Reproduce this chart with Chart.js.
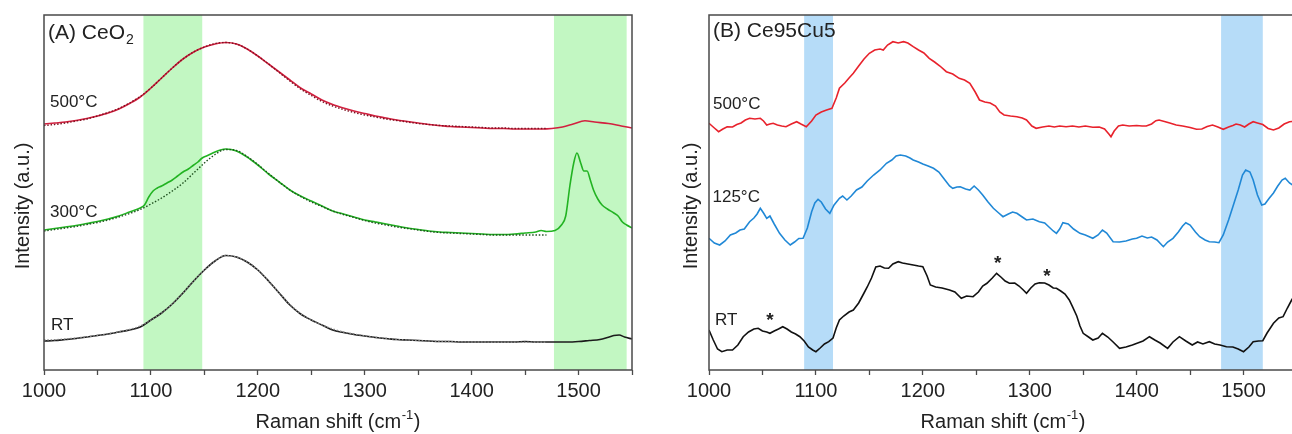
<!DOCTYPE html>
<html>
<head>
<meta charset="utf-8">
<script src="https://cdn.jsdelivr.net/npm/chart.js@4.4.1/dist/chart.umd.min.js"></script>
<style>
  html, body { margin: 0; padding: 0; background: #fff; }
  body { width: 1292px; height: 434px; overflow: hidden; position: relative; }
  .panel { position: absolute; top: 0; }
  canvas { display: block; }
</style>
</head>
<body>
<div class="panel" style="left:0"><canvas id="panelA" width="660" height="434"></canvas></div>
<div class="panel" style="left:660px"><canvas id="panelB" width="680" height="434"></canvas></div>
<script>
// ---------- Panel A: CeO2 (Raman shift in cm^-1, intensity in arbitrary offset units) ----------
const ceo2_500_x = [1000,1010,1020,1030,1040,1050,1060,1070,1080,1090,1100,1110,1120,1130,1140,1150,1160,1170,1180,1190,1200,1210,1220,1230,1240,1250,1260,1270,1280,1290,1300,1310,1320,1330,1340,1350,1360,1370,1380,1390,1400,1410,1420,1430,1440,1450,1460,1466,1475,1485,1495,1506,1515,1528,1540,1550];
const ceo2_500_y = [246,247,248,249.5,251.5,254,257,261,266.5,273,282,292,302,311,318,323,326,327.5,326,321,314,306,298,290,282,276,270,265.5,262,259,256.5,254,252,250,248.5,247,245.5,244.5,243.5,243,242.5,242,241.5,241.5,241,241,241,241,241.5,243,246,249.3,248,246.5,244,242];

const ceo2_300_x = [1000,1010,1020,1030,1040,1050,1060,1070,1080,1090,1094,1098,1102,1106,1110,1115,1120,1125,1130,1135,1140,1144,1148,1152,1156,1160,1165,1170,1175,1180,1190,1200,1210,1220,1230,1240,1250,1260,1270,1280,1290,1300,1310,1320,1330,1340,1350,1360,1370,1380,1390,1400,1410,1420,1430,1440,1450,1460,1465,1470,1478,1484,1488,1492,1495.5,1498.5,1502,1505,1508,1511,1514,1518,1522,1527,1533,1537,1541,1545,1550];
const ceo2_300_y = [140,141.5,143,144.5,146.5,148.5,151,154,158,162,165,173,179,182,184,187,190,194,198,201,205,208,212,214,216,218,220,221,220.5,219,213,205,196,188,180,174,169,164,159,156,153,150,148,146,144,142,140.5,139,138,137.5,137,136.5,136,135.5,135.5,136,137,138,139.5,138.5,139.5,145,154,185,207,217,207,199,199,190,180,171,165,161,157,154,148,145,142];

const ceo2_rt_x = [1000,1010,1020,1030,1040,1050,1060,1070,1080,1090,1100,1110,1120,1130,1140,1150,1160,1170,1180,1190,1200,1210,1220,1230,1240,1250,1260,1270,1280,1290,1300,1310,1320,1330,1340,1350,1360,1370,1380,1390,1400,1410,1420,1430,1440,1450,1460,1470,1480,1490,1500,1510,1520,1527,1533,1538,1543,1550];
const ceo2_rt_y = [29,29.5,30.5,31.5,33,34.5,36,38,40,43,50,57,66,77,89,100,109,114.5,113,108,100,89,77,65,56,50,45,40,37.5,35.5,34,32.5,31.5,30.5,30,29.5,29,28.5,28.5,28,28,28,28,28,28,28.5,28,28,28,28,28.5,29.5,30.5,32.5,34.5,35,33,31];

// fitted profiles (dotted)
const fit_x = [1000,1010,1020,1030,1040,1050,1060,1070,1080,1090,1100,1110,1120,1130,1140,1150,1160,1170,1180,1190,1200,1210,1220,1230,1240,1250,1260,1270,1280,1290,1300,1310,1320,1330,1340,1350,1360,1370,1380,1390,1400,1410,1420,1430,1440,1450,1460,1470];
const fit_500_y = [244.5,245.5,247,249,251,254,257.5,261.5,267,273.5,282,292,302,311,318,323,326.5,327.5,326,321,314,306,297.5,289,281,274.5,268.5,264,260.5,257.5,255,253,251,249.5,248,246.5,245.5,244.5,244,243.5,243,242.5,242,242,241.5,241.5,241.5,241.5];
const fit_300_y = [139,140.5,142,143.5,145.5,147.5,150,153,156.5,160.5,166,172,179,187,197,207,215.5,220.5,219.5,213.5,205.5,196.5,188,180,173.5,168,163.5,159,155.5,152.5,149.5,147,145,143,141.5,140,138.5,137.5,137,136.5,136,135.5,135,135,135,135,135,135];
const fit_rt_y = [30,30.2,31,32,33.2,34.6,36.2,38.2,40.5,44,50,57,66,77,89,100,109,114.5,113,108,100,89,77,65.5,56.5,50,45,41,38,36,34.2,32.8,31.6,30.6,30,29.5,29,28.7,28.4,28.2,28,28,27.8,27.8,27.8,27.8,27.8,27.8];

// ---------- Panel B: Ce95Cu5 ----------
const cecu_500_x = [1000,1005,1009,1013,1017,1022,1026,1030,1034,1038,1043,1048,1051,1054,1057,1060,1064,1068,1072,1077,1082,1086,1091,1096,1100,1105,1110,1115,1119,1122,1127,1131,1135,1140,1145,1150,1155,1160,1163,1167,1172,1177,1182,1186,1191,1196,1201,1206,1211,1216,1222,1228,1234,1239,1244,1249,1253,1258,1263,1268,1272,1276,1282,1288,1293,1297,1302,1306,1312,1318,1323,1328,1334,1340,1346,1352,1359,1365,1370,1374,1376,1379,1383,1387,1393,1400,1405,1409,1414,1418,1421,1426,1431,1437,1443,1450,1456,1461,1466,1471,1476,1481,1486,1490,1493,1497,1501,1505,1509,1513,1518,1523,1528,1533,1538,1543,1550];
const cecu_500_y = [246.7,242,238.3,241,243.3,243,245.5,247,250,251.7,251,251.7,249,245,246,246.7,245,244,243.3,246,248.3,246,243.3,249,255,258,260,261.7,272,281.7,287,292,296.7,304,311,316.7,320,321,320,325,328.3,327,328.3,327,323.3,320,317,311.7,308,304,298.3,296,291.7,290,286.7,278,270,268,267,264,258,255,254,253.3,252,250,244,241.7,243,244,243,244,243.3,244,243,244,242.7,243,241,236,233.3,239,244,245,244,244.5,244,244,246,249.3,250,248.5,247,245,244,242.5,240.7,241,243.5,245,243,240.7,243,244.5,246,245,243,246,248.3,247,245.5,241.5,240,242,246,248.3,249];

const cecu_125_x = [1000,1005,1010,1015,1020,1025,1029,1033,1038,1042,1045,1048,1051,1054,1057,1061,1066,1071,1076,1080,1084,1088,1092,1096,1099,1102,1105,1109,1113,1117,1122,1125,1129,1133,1138,1143,1148,1154,1160,1166,1171,1175,1179,1184,1188,1191,1196,1200,1205,1210,1215,1220,1225,1228,1232,1235,1240,1244,1248,1252,1256,1261,1266,1271,1275,1280,1284,1288,1293,1297,1303,1309,1314,1318,1322,1325,1328,1331,1336,1341,1347,1352,1359,1364,1368,1372,1378,1384,1390,1396,1400,1405,1410,1414,1419,1425,1429,1434,1439,1443,1446,1450,1455,1459,1464,1468,1473,1477,1481,1486,1490,1495,1499,1502,1506,1509,1513,1517,1520,1524,1528,1532,1536,1539,1543,1550];
const cecu_125_y = [131.7,127,125,129,135,137,140,141,148.3,152,156,161.7,157,151.7,154,146,136.7,130,125,128,131.5,131.7,142,158.3,167,170.7,168,161,156.7,165,171.7,174,170,174,180,183,189,195,200,206.7,210,214,215,214,212,210,208,206,204,201.7,198,191,184,181.7,183,183.3,181,180,184,180,175,168,161.7,157,153.3,156,158,156.7,153,150,151,148.3,147,143,139,136.7,141,147.3,146,141,136.7,135,131.7,135,140,137,128.3,128,129,131,131.7,134,132,133,130,123.3,128,131.7,138,144,147.3,145,138,133.3,130,128.3,128,127.3,135,150,163.3,180,195,200,198,190,175,165,166,171.7,177,184,190,191.7,187,182];

const cecu_rt_x = [1000,1004,1008,1012,1017,1022,1027,1032,1037,1042,1046,1050,1054,1057,1061,1065,1069,1073,1077,1081,1085,1089,1093,1097,1100,1104,1108,1112,1116,1119,1122,1126,1131,1135,1140,1145,1148,1152,1156,1160,1164,1168,1172,1177,1181,1186,1191,1196,1200,1204,1207,1212,1218,1225,1230,1236,1241,1247,1252,1256,1260,1265,1269,1273,1277,1281,1286,1290,1294,1297,1301,1305,1309,1314,1318,1322,1325,1329,1333,1337,1340,1344,1347,1350,1355,1359,1364,1368,1373,1378,1384,1390,1396,1401,1406,1412,1417,1422,1429,1434,1440,1446,1452,1457,1462,1468,1473,1478,1484,1490,1495,1500,1505,1509,1514,1518,1522,1528,1533,1537,1541,1545,1550];
const cecu_rt_y = [40,30,21,18.3,20,20,25,33.3,38,41,41.7,39,38,36.7,39,41,43.3,41,38,36,33.3,29,23,20,18.3,22,26,28.3,32,42,50,54,58,60,67,77,83,92,103,104,102,101.7,106,108.3,107,106,105,104,103.3,94,85,83,82,80,78,71.7,74,73.3,78,84,86.7,92,96.7,93,89,86.7,87,84,80,76.7,82,86,87.3,87,85,82,81.7,79,76,70,63.3,54,44,36.7,33,30,32,36.7,33,28,21.7,23,25,27,29,33.3,30,27,21.7,28,33.3,29,25,28,26,28.3,26,25,23.3,23,21,18.3,23,28.3,29,29.3,37,46.7,52,53.3,62,70,78];

// peaks marked with an asterisk in panel B (Raman shift, intensity)
const star_x = [1057, 1270, 1316];
const star_y = [55, 111.7, 99.3];

const FONT = '"Liberation Sans", Arial, Helvetica, sans-serif';
const TEXT = '#222';

function pts(xs, ys) { return xs.map((x, i) => ({ x: x, y: ys[i] })); }

// shaded bands, frame, labels and axis titles
const decor = {
  id: 'decor',
  beforeDatasetsDraw(chart, args, o) {
    const { ctx, chartArea: a, scales: { x } } = chart;
    ctx.save();
    ctx.fillStyle = o.bandColor;
    for (const [lo, hi] of o.bands) {
      const x0 = x.getPixelForValue(lo), x1 = x.getPixelForValue(hi);
      ctx.fillRect(x0, a.top, x1 - x0, a.bottom - a.top);
    }
    ctx.restore();
  },
  afterDraw(chart, args, o) {
    const { ctx, chartArea: a, scales: { x, y } } = chart;
    ctx.save();
    // frame
    ctx.strokeStyle = '#4a4a4a';
    ctx.lineWidth = 1.5;
    ctx.strokeRect(a.left, a.top, a.right - a.left, a.bottom - a.top);
    ctx.fillStyle = TEXT;
    ctx.textBaseline = 'alphabetic';
    ctx.textAlign = 'left';
    // panel title with optional subscript
    ctx.font = '21px ' + FONT;
    ctx.fillText(o.title, o.titlePos[0], o.titlePos[1]);
    if (o.titleSub) {
      const w = ctx.measureText(o.title).width;
      ctx.font = '14px ' + FONT;
      ctx.fillText(o.titleSub, o.titlePos[0] + w + 1, o.titlePos[1] + 5);
    }
    // curve labels
    ctx.font = '17px ' + FONT;
    for (const l of o.labels) ctx.fillText(l.text, l.pos[0], l.pos[1]);
    // asterisks
    if (o.stars) {
      ctx.font = 'bold 19px ' + FONT;
      ctx.textAlign = 'center';
      for (let i = 0; i < o.stars.x.length; i++) {
        ctx.fillText('*', x.getPixelForValue(o.stars.x[i]), y.getPixelForValue(o.stars.y[i]) + 11);
      }
    }
    // x axis title: Raman shift (cm^-1)
    const cx = (a.left + a.right) / 2, by = 428;
    ctx.font = '20px ' + FONT;
    const p1 = 'Raman shift (cm', p3 = ')';
    ctx.font = '20px ' + FONT; const w1 = ctx.measureText(p1).width, w3 = ctx.measureText(p3).width;
    ctx.font = '13px ' + FONT; const w2 = ctx.measureText('-1').width;
    let sx = cx - (w1 + w2 + w3 + 1) / 2;
    ctx.textAlign = 'left';
    ctx.font = '20px ' + FONT; ctx.fillText(p1, sx, by);
    ctx.font = '13px ' + FONT; ctx.fillText('-1', sx + w1 + 0.5, by - 9);
    ctx.font = '20px ' + FONT; ctx.fillText(p3, sx + w1 + w2 + 1, by);
    // y axis title
    ctx.translate(o.yTitlePos[0], o.yTitlePos[1]);
    ctx.rotate(-Math.PI / 2);
    ctx.textAlign = 'center';
    ctx.font = '20px ' + FONT;
    ctx.fillText('Intensity (a.u.)', 0, 0);
    ctx.restore();
  }
};

function makeChart(id, datasets, pad, decorOpts) {
  return new Chart(document.getElementById(id), {
    type: 'line',
    data: { datasets: datasets },
    plugins: [decor],
    options: {
      responsive: false,
      animation: false,
      devicePixelRatio: 1,
      layout: { padding: pad },
      plugins: { legend: { display: false }, tooltip: { enabled: false }, decor: decorOpts },
      elements: { point: { radius: 0 } },
      scales: {
        x: {
          type: 'linear', min: 1000, max: 1550,
          border: { display: false },
          grid: { display: true, drawOnChartArea: false, drawTicks: true, tickLength: 5, tickColor: '#4a4a4a', tickWidth: 1.3 },
          ticks: {
            stepSize: 50, autoSkip: false, maxRotation: 0, padding: 4,
            color: TEXT, font: { family: FONT, size: 20 },
            callback: v => (v % 100 === 0 ? String(v) : '')
          },
          afterFit(s) { s.height = 64; }
        },
        y: { display: false, min: 0, max: 355 }
      }
    }
  });
}

function line(xs, ys, color, opts) {
  return Object.assign({ data: pts(xs, ys), borderColor: color, borderWidth: 1.6, fill: false, pointRadius: 0 }, opts || {});
}

const smooth = { cubicInterpolationMode: 'monotone' };
const dotted = { borderDash: [1.5, 1.8], borderWidth: 1.4, cubicInterpolationMode: 'monotone' };

makeChart('panelA', [
  line(fit_x, fit_500_y, '#7d1020', dotted),
  line(fit_x, fit_300_y, '#1d4f1d', dotted),
  line(fit_x, fit_rt_y, '#888888', dotted),
  line(ceo2_500_x, ceo2_500_y, '#d2203f', smooth),
  line(ceo2_300_x, ceo2_300_y, '#22b322', smooth),
  line(ceo2_rt_x, ceo2_rt_y, '#1c1c1c', smooth)
], { left: 44, right: 28, top: 15, bottom: 0 }, {
  bands: [[1093, 1148], [1477, 1545]],
  bandColor: '#c2f7c2',
  title: '(A) CeO', titleSub: '2', titlePos: [48, 39],
  labels: [
    { text: '500°C', pos: [50, 106.5] },
    { text: '300°C', pos: [50, 216.5] },
    { text: 'RT', pos: [51, 330] }
  ],
  yTitlePos: [28.5, 206]
});

makeChart('panelB', [
  line(cecu_500_x, cecu_500_y, '#e8222c'),
  line(cecu_125_x, cecu_125_y, '#2088d6'),
  line(cecu_rt_x, cecu_rt_y, '#111111')
], { left: 49, right: 43, top: 15, bottom: 0 }, {
  bands: [[1089, 1116], [1479, 1518]],
  bandColor: '#b6dcf8',
  title: '(B) Ce95Cu5', titleSub: '', titlePos: [713, -0].map((v, i) => i === 0 ? v - 660 : 37),
  labels: [
    { text: '500°C', pos: [713 - 660, 109] },
    { text: '125°C', pos: [712.5 - 660, 201.5] },
    { text: 'RT', pos: [715 - 660, 325] }
  ],
  stars: { x: star_x, y: star_y },
  yTitlePos: [697 - 660, 206]
});
</script>
</body>
</html>
